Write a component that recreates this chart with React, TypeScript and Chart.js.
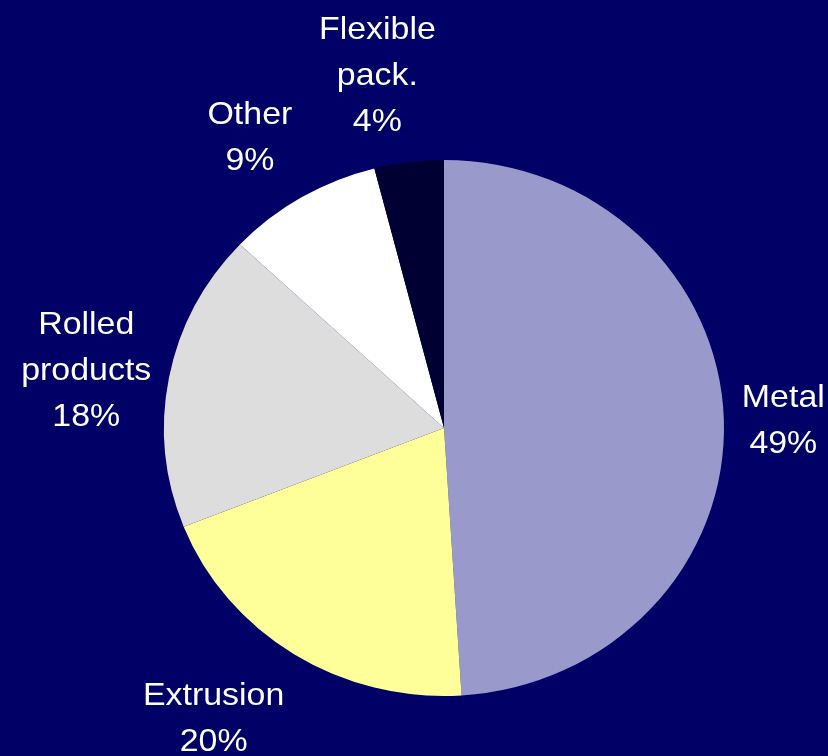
import React, { useEffect, useRef } from "react";
import { Chart, registerables } from "chart.js";

Chart.register(...registerables);

const categories = ["Metal", "Extrusion", "Rolled products", "Other", "Flexible pack."];
const labelLines = [["Metal"], ["Extrusion"], ["Rolled", "products"], ["Other"], ["Flexible", "pack."]];
const shares = [49, 20, 18, 9, 4];
const sliceColors = ["#9999CC", "#FFFF99", "#DDDDDD", "#FFFFFF", "#000033"];

const BG = "#000066";
const SQUASH = 268 / 280;
const FONT_SIZE = 32;
const TEXT_STRETCH = 1.06;
const LINE_H = 46;
const GAP_X = 18;
const GAP_Y = 27;

const squashPlugin = {
  id: "squash",
  beforeDatasetsDraw(chart: any) {
    const arc = chart.getDatasetMeta(0).data[0];
    if (!arc) return;
    const { x, y } = arc;
    const ctx = chart.ctx;
    ctx.save();
    ctx.translate(x, y);
    ctx.scale(1, SQUASH);
    ctx.translate(-x, -y);
  },
  afterDatasetsDraw(chart: any) {
    chart.ctx.restore();
  },
};

const clamp = (v: number) => Math.max(-1, Math.min(1, v));

const labelPlugin = {
  id: "outsideLabels",
  afterDraw(chart: any) {
    const ctx = chart.ctx;
    const meta = chart.getDatasetMeta(0);
    ctx.save();
    ctx.fillStyle = "#FFFFFF";
    ctx.font = `${FONT_SIZE}px "Liberation Sans", Arial, sans-serif`;
    ctx.textAlign = "center";
    ctx.textBaseline = "alphabetic";
    meta.data.forEach((arc: any, i: number) => {
      const { x, y, startAngle, endAngle, outerRadius } = arc.getProps(
        ["x", "y", "startAngle", "endAngle", "outerRadius"],
        true
      );
      const mid = (startAngle + endAngle) / 2;
      const c = Math.cos(mid);
      const s = Math.sin(mid);
      const ax = x + (outerRadius + GAP_X) * c;
      const ay = y + (outerRadius * SQUASH + GAP_Y) * s;
      const lines = [...labelLines[i], `${shares[i]}%`];
      const w = Math.max(...lines.map((l) => ctx.measureText(l).width)) * TEXT_STRETCH;
      const h = (lines.length - 1) * LINE_H + FONT_SIZE;
      const fx = clamp(c * 4);
      const fy = Math.sign(s) * Math.max(0, clamp((Math.abs(s) - 0.15) / 0.6));
      const cx = ax + (fx * w) / 2;
      const cy = ay + (fy * h) / 2;
      lines.forEach((line, j) => {
        const ly = cy + (j - (lines.length - 1) / 2) * LINE_H + FONT_SIZE * 0.36;
        ctx.save();
        ctx.translate(cx, ly);
        ctx.scale(TEXT_STRETCH, 1);
        ctx.fillText(line, 0, 0);
        ctx.restore();
      });
    });
    ctx.restore();
  },
};

export default function App() {
  const ref = useRef<HTMLCanvasElement>(null);
  useEffect(() => {
    document.body.style.margin = "0";
    document.body.style.background = BG;
    const canvas = ref.current!;
    const chart = new Chart(canvas, {
      type: "pie",
      data: {
        labels: categories,
        datasets: [
          {
            data: shares,
            backgroundColor: sliceColors,
            borderWidth: 0,
          },
        ],
      },
      options: {
        animation: false,
        responsive: false,
        devicePixelRatio: 1,
        layout: { padding: { left: 164, right: 104, top: 148, bottom: 48 } },
        plugins: {
          legend: { display: false },
          tooltip: { enabled: false },
        },
      },
      plugins: [squashPlugin, labelPlugin],
    });
    return () => chart.destroy();
  }, []);
  return (
    <div style={{ width: 828, height: 756, background: BG }}>
      <canvas ref={ref} width={828} height={756} style={{ display: "block" }} />
    </div>
  );
}
